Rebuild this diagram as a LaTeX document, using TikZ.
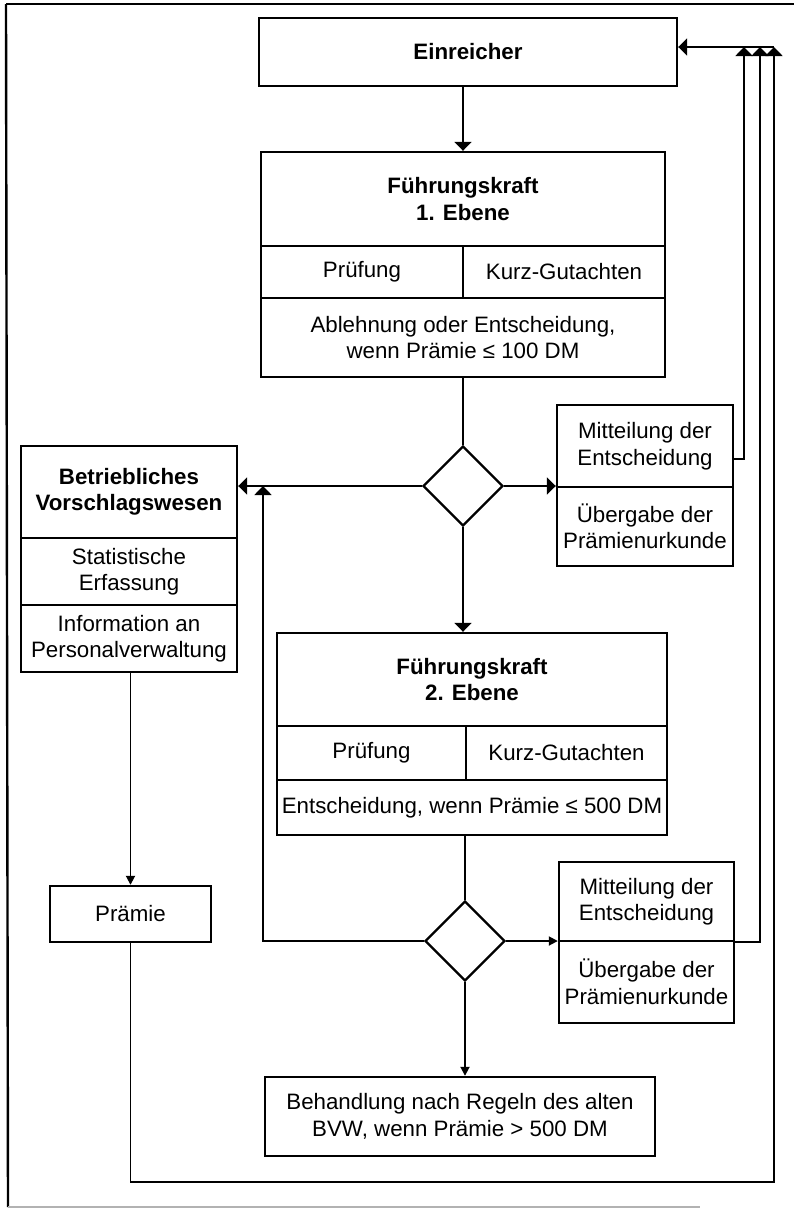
\documentclass[tikz,border=0pt]{standalone}
\usepackage{fontspec}
\setmainfont{Liberation Sans}
\usetikzlibrary{arrows.meta,shapes.geometric}
\newcommand\myfs{\fontsize{22.3}{26.5}\selectfont}
\begin{document}
\begin{tikzpicture}[x=1pt,y=-1pt,
  box/.style={draw,line width=2.4pt,inner sep=0pt,align=center,font=\myfs},
  dia/.style={draw,diamond,line width=2.4pt,inner sep=0pt,minimum width=80pt,minimum height=80pt},
  conn/.style={line width=1.8pt},
  bigarr/.style={conn,-{Triangle[length=9pt,width=17pt]}},
  smallarr/.style={conn,-{Triangle[length=9pt,width=9pt]}}]
\useasboundingbox (0,0) rectangle (794,1208);
% frame
\draw[line width=2.4pt] (6,4) -- (794,4);
\draw[line width=2.4pt] (6,4) -- (8,1207);
\draw[line width=1.5pt,gray!60] (8,1207) -- (700,1207);
% boxes
\node[box,minimum width=418pt,minimum height=68pt] (ein) at (468,52) {\bfseries Einreicher};
\node[box,minimum width=404pt,minimum height=94pt] (fk1t) at (463,199) {\bfseries Führungskraft\\\bfseries 1. Ebene};
\node[box,minimum width=202pt,minimum height=52pt] (fk1p) at (362,272) {Prüfung};
\node[box,minimum width=202pt,minimum height=52pt] (fk1k) at (564,272) {Kurz-Gutachten};
\node[box,minimum width=404pt,minimum height=79pt] (fk1a) at (463,337.5) {Ablehnung oder Entscheidung,\\wenn Prämie ≤ 100 DM};
\node[dia] (d1) at (463,486) {};
\node[box,minimum width=176pt,minimum height=82pt] (m1a) at (645,446) {Mitteilung der\\Entscheidung};
\node[box,minimum width=176pt,minimum height=79pt] (m1b) at (645,526.5) {Übergabe der\\Prämienurkunde};
\node[box,minimum width=216pt,minimum height=92pt] (bv1) at (129,492) {\bfseries Betriebliches\\\bfseries Vorschlagswesen};
\node[box,minimum width=216pt,minimum height=67pt] (bv2) at (129,571.5) {Statistische\\Erfassung};
\node[box,minimum width=216pt,minimum height=67pt] (bv3) at (129,638.5) {Information an\\Personalverwaltung};
\node[box,minimum width=161pt,minimum height=56pt] (pr) at (130.5,914) {Prämie};
\node[box,minimum width=390pt,minimum height=93pt] (fk2t) at (472,679.5) {\bfseries Führungskraft\\\bfseries 2. Ebene};
\node[box,minimum width=189pt,minimum height=54pt] (fk2p) at (371.5,753) {Prüfung};
\node[box,minimum width=201pt,minimum height=54pt] (fk2k) at (566.5,753) {Kurz-Gutachten};
\node[box,minimum width=390pt,minimum height=55pt] (fk2e) at (472,807.5) {Entscheidung, wenn Prämie ≤ 500 DM};
\node[dia] (d2) at (465,941) {};
\node[box,minimum width=175pt,minimum height=79pt] (m2a) at (646.5,901.5) {Mitteilung der\\Entscheidung};
\node[box,minimum width=175pt,minimum height=82pt] (m2b) at (646.5,982) {Übergabe der\\Prämienurkunde};
\node[box,minimum width=390pt,minimum height=79pt] (beh) at (460,1116.5) {Behandlung nach Regeln des alten\\BVW, wenn Prämie > 500 DM};
% coordinates
\coordinate (t1) at (744,47);
\coordinate (t2) at (760,47);
\coordinate (t3) at (774,47);
\coordinate (b3) at (774,1182);
\coordinate (j1) at (263,941);
\coordinate (j2) at (263,486);
% connectors
\draw[bigarr] (fk1t.north |- ein.south) -- (fk1t.north);
\draw[conn] (d1.north |- fk1a.south) -- (d1.north);
\draw[bigarr] (d1.west) -- (d1.west -| bv1.east);
\draw[bigarr] (d1.east) -- (d1.east -| m1a.west);
\draw[bigarr] (d1.south) -- (d1.south |- fk2t.north);
\draw[conn] (d2.north |- fk2e.south) -- (d2.north);
\draw[bigarr] (d2.west) -- (j1) -- (j2);
\draw[smallarr] (d2.east) -- (d2.east -| m2a.west);
\draw[smallarr] (d2.south) -- (d2.south |- beh.north);
\draw[smallarr] (pr.north |- bv3.south) -- (pr.north);
\draw[bigarr] (pr.south) -- (pr.south |- b3) -- (b3) -- (t3);
\draw[bigarr] (m1a.east |- 0,459) -- (t1 |- 0,459) -- (t1);
\draw[bigarr] (m2a.south east) -- (t2 |- m2a.south east) -- (t2);
\draw[bigarr] (t3) -- (t3 -| ein.east);
\end{tikzpicture}
\end{document}
